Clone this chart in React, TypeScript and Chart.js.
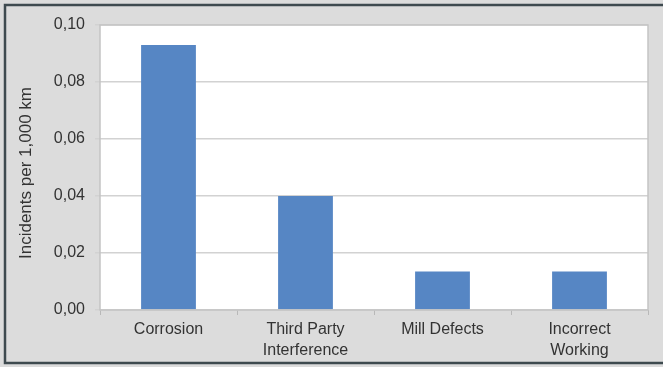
import React, { useEffect, useRef } from "react";
import { Chart, registerables } from "chart.js";

Chart.register(...registerables);

const categories: (string | string[])[] = [
  "Corrosion",
  ["Third Party", "Interference"],
  "Mill Defects",
  ["Incorrect", "Working"],
];
const incidents: number[] = [0.093, 0.04, 0.0135, 0.0135];
const yTickValues: number[] = [0, 0.02, 0.04, 0.06, 0.08, 0.1];
const yTitle = "Incidents per 1,000 km";

const FONT = "'Liberation Sans', Arial, sans-serif";
const TEXT = "#333333";

// Frame, panel background, plot border and rotated axis title.
const decorations = {
  id: "decorations",
  beforeDraw(chart: Chart) {
    const { ctx, width, height, chartArea } = chart;
    ctx.save();
    ctx.fillStyle = "#dcdcdc";
    ctx.fillRect(0, 0, width, height);
    ctx.strokeStyle = "#3e4a4f";
    ctx.lineWidth = 2.5;
    ctx.strokeRect(5, 5, width + 20, height - 4 - 5);
    ctx.fillStyle = "#ffffff";
    ctx.fillRect(
      chartArea.left,
      chartArea.top,
      chartArea.right - chartArea.left,
      chartArea.bottom - chartArea.top
    );
    ctx.restore();
  },
  afterDraw(chart: Chart) {
    const { ctx, chartArea } = chart;
    ctx.save();
    ctx.strokeStyle = "#c4c4c4";
    ctx.lineWidth = 1.5;
    ctx.strokeRect(
      chartArea.left,
      chartArea.top,
      chartArea.right - chartArea.left,
      chartArea.bottom - chartArea.top
    );
    ctx.translate(26, 173);
    ctx.rotate(-Math.PI / 2);
    ctx.fillStyle = TEXT;
    ctx.font = `17px ${FONT}`;
    ctx.textAlign = "center";
    ctx.textBaseline = "middle";
    ctx.fillText(yTitle, 0, 0);
    ctx.restore();
  },
};

export default function App() {
  const canvasRef = useRef<HTMLCanvasElement | null>(null);

  useEffect(() => {
    document.body.style.margin = "0";
    const canvas = canvasRef.current;
    if (!canvas) return;
    const chart = new Chart(canvas, {
      type: "bar",
      data: {
        labels: categories,
        datasets: [
          {
            data: incidents,
            backgroundColor: "#5686c4",
            borderWidth: 0,
            categoryPercentage: 1,
            barPercentage: 0.4,
          },
        ],
      },
      options: {
        animation: false,
        responsive: false,
        devicePixelRatio: 1,
        layout: { padding: { left: 0, top: 25, right: 15, bottom: 0 } },
        plugins: {
          legend: { display: false },
          tooltip: { enabled: false },
        },
        scales: {
          x: {
            grid: {
              drawOnChartArea: false,
              drawTicks: true,
              tickLength: 5,
              color: "#b8b8b8",
              offset: true,
            },
            border: { display: false },
            ticks: {
              color: TEXT,
              font: { family: FONT, size: 16, lineHeight: 1.3 },
              padding: 4,
              maxRotation: 0,
              autoSkip: false,
            },
            afterFit(scale: any) {
              scale.height = 57;
            },
          },
          y: {
            min: 0,
            max: 0.1,
            afterBuildTicks(scale: any) {
              scale.ticks = yTickValues.map((v) => ({ value: v }));
            },
            grid: {
              color: "#d2d2d2",
              lineWidth: 1.5,
              drawTicks: true,
              tickLength: 5,
            },
            border: { display: false },
            ticks: {
              color: TEXT,
              font: { family: FONT, size: 16 },
              padding: 10,
              callback: (v: any) => Number(v).toFixed(2).replace(".", ","),
            },
            afterFit(scale: any) {
              scale.width = 100;
            },
          },
        },
      },
      plugins: [decorations],
    });
    return () => chart.destroy();
  }, []);

  return (
    <div style={{ width: 663, height: 367 }}>
      <canvas ref={canvasRef} width={663} height={367} style={{ display: "block" }} />
    </div>
  );
}
